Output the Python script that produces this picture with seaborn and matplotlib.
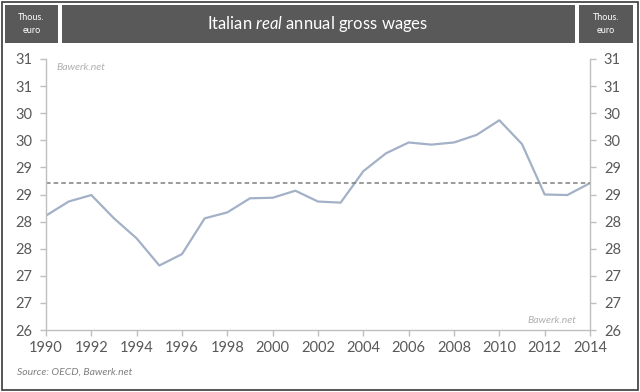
import matplotlib
matplotlib.use("Agg")
import matplotlib.pyplot as plt
import seaborn as sns
import pandas as pd
from matplotlib.patches import Rectangle

years = list(range(1990, 2015))
wages = [28.11, 28.37, 28.49, 28.06, 27.69, 27.19, 27.40, 28.06, 28.17, 28.43,
         28.44, 28.57, 28.37, 28.35, 28.93, 29.26, 29.46, 29.42, 29.46, 29.60,
         29.87, 29.43, 28.50, 28.49, 28.71]
average = 28.72
ytick_vals = [26.0, 26.5, 27.0, 27.5, 28.0, 28.5, 29.0, 29.5, 30.0, 30.5, 31.0]
ytick_labels = ["26", "27", "27", "28", "28", "29", "29", "30", "30", "31", "31"]
xtick_vals = list(range(1990, 2015, 2))

df = pd.DataFrame({"Year": years, "Wage": wages})

sns.set_style("white")
plt.rcParams["font.family"] = ["Lato", "DejaVu Sans"]
plt.rcParams["mathtext.fontset"] = "custom"
plt.rcParams["mathtext.rm"] = "Lato"
plt.rcParams["mathtext.it"] = "Lato:italic"

txt_grey = "#595959"
spine_grey = "#BFBFBF"

fig = plt.figure(figsize=(6.4, 3.92), dpi=100)
ax = fig.add_axes([46 / 640, 1 - 330 / 392, (590 - 46) / 640, (330 - 59) / 392])

sns.lineplot(data=df, x="Year", y="Wage", ax=ax, color="#A3B1C6", linewidth=1.6)
ax.axhline(average, color="#7F7F7F", linestyle=(0, (3, 2)), linewidth=1.1)

ax.set_xlim(1990, 2014)
ax.set_ylim(26, 31)
ax.set_xticks(xtick_vals)
ax.set_yticks(ytick_vals)
ax.set_yticklabels(ytick_labels)
ax.set_xlabel("")
ax.set_ylabel("")

for side in ["left", "right", "bottom"]:
    ax.spines[side].set_visible(True)
    ax.spines[side].set_color(spine_grey)
    ax.spines[side].set_linewidth(1)
ax.spines["top"].set_visible(False)

ax.tick_params(axis="both", direction="out", length=4, width=1, color=spine_grey,
               labelcolor=txt_grey, labelsize=10.5)
ax.tick_params(axis="y", left=True, right=True, labelleft=True, labelright=True, pad=6)
ax.tick_params(axis="x", bottom=True, pad=4)

# watermarks
ax.text(0.02, 0.985, "Bawerk.net", transform=ax.transAxes, fontsize=7.5,
        style="italic", color="#B0B0B0", ha="left", va="top")
ax.text(0.975, 0.02, "Bawerk.net", transform=ax.transAxes, fontsize=7.5,
        style="italic", color="#B0B0B0", ha="right", va="bottom")

# source
fig.text(17 / 640, 1 - 372 / 392, "Source: OECD, Bawerk.net", fontsize=7.5,
         style="italic", color="#7F7F7F", ha="left", va="center")

# header boxes
box_color = "#595959"
top = 1 - 5 / 392
h = 38 / 392
for x0, x1 in [(5, 58), (62, 575), (579, 633)]:
    fig.patches.append(Rectangle((x0 / 640, top - h), (x1 - x0) / 640, h,
                                 transform=fig.transFigure, facecolor=box_color,
                                 edgecolor="none"))
yc = top - h / 2
for xc in [31.5 / 640, 606 / 640]:
    fig.text(xc, yc, "Thous.\neuro", color="white", fontsize=6.5, ha="center",
             va="center", linespacing=1.5)
fig.text(318 / 640, yc, r"Italian $\mathit{real}$ annual gross wages", color="white",
         fontsize=12, ha="center", va="center")

# outer frame
fig.patches.append(Rectangle((2 / 640, 2 / 392), 636 / 640, 388 / 392,
                             transform=fig.transFigure, facecolor="none",
                             edgecolor="#3A3A3A", linewidth=1.2))

fig.savefig("out.png", dpi=100)
